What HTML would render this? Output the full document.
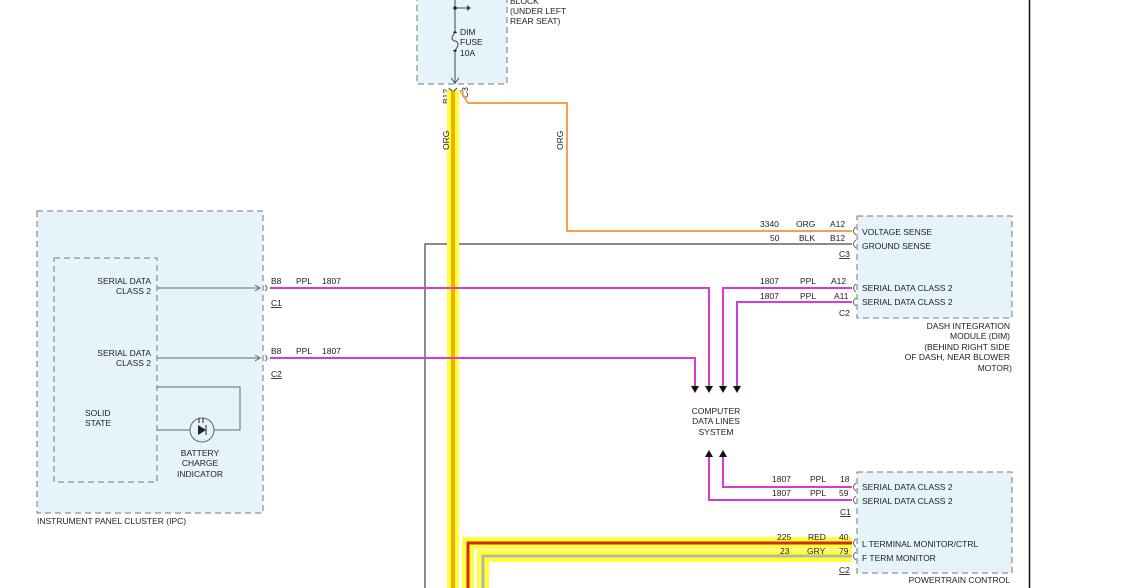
<!DOCTYPE html>
<html><head><meta charset="utf-8"><style>
html,body{margin:0;padding:0;background:#fff}
svg{display:block}
text{font-family:"Liberation Sans",sans-serif;font-size:8.5px;fill:#222}
</style></head><body>
<svg width="1123" height="588" viewBox="0 0 1123 588" xmlns="http://www.w3.org/2000/svg">
<!-- right border -->
<line x1="1029.5" y1="0" x2="1029.5" y2="588" stroke="#111" stroke-width="1.5"/>
<!-- fuse block -->
<rect x="417" y="-3" width="90" height="87" fill="#e6f3fb" stroke="#777" stroke-dasharray="6,4"/>
<line x1="455" y1="0" x2="455" y2="84" stroke="#444"/>
<line x1="455" y1="8" x2="470" y2="8" stroke="#444"/>
<path d="M467,5 L471,8 L467,11 Z" fill="#444"/>
<circle cx="455" cy="8" r="1.8" fill="#222"/>
<circle cx="455" cy="33" r="1.8" fill="#222"/>
<circle cx="455" cy="50" r="1.8" fill="#222"/>
<rect x="453" y="33" width="4" height="17" fill="#e6f3fb"/>
<path d="M455,33 C451,37 451,40 455,41 C459,42 459,46 455,50" fill="none" stroke="#444"/>
<path d="M451,78 L455,83 L459,78" fill="none" stroke="#444"/>
<text x="460" y="35">DIM</text><text x="460" y="45">FUSE</text><text x="460" y="56">10A</text>
<text x="510" y="4">BLOCK</text><text x="510" y="14">(UNDER LEFT</text><text x="510" y="24">REAR SEAT)</text>
<text transform="translate(449,104) rotate(-90)">B12</text>
<text transform="translate(468,98) rotate(-90)">C3</text>
<!-- orange thin wire -->
<path d="M460,90 L468,103 L567,103 L567,231 L852,231" fill="none" stroke="#f2a24a" stroke-width="2"/>
<text transform="translate(563,150) rotate(-90)">ORG</text>
<!-- gray wire -->
<path d="M425,588 L425,244 L852,244" fill="none" stroke="#666" stroke-width="1.5"/>
<!-- main yellow -->
<line x1="453" y1="90" x2="453" y2="588" stroke="#ffff40" stroke-width="12"/>
<line x1="453" y1="90" x2="453" y2="588" stroke="#f0b000" stroke-width="4"/>
<path d="M449,88 L452,91 M457,88 L454,91" stroke="#444"/>
<text transform="translate(449,150) rotate(-90)">ORG</text>
<!-- lower wires -->
<path d="M852,543 L468,543 L468,588" fill="none" stroke="#ffff40" stroke-width="12"/>
<path d="M852,556 L483,556 L483,588" fill="none" stroke="#ffff40" stroke-width="12"/>
<path d="M852,543 L468,543 L468,588" fill="none" stroke="#d42a00" stroke-width="3"/>
<path d="M852,556 L483,556 L483,588" fill="none" stroke="#b8b8a0" stroke-width="3"/>
<text x="777" y="540">225</text><text x="808" y="540">RED</text><text x="839" y="540">40</text>
<text x="780" y="554">23</text><text x="807" y="554">GRY</text><text x="839" y="554">79</text>
<text x="839" y="573" text-decoration="underline">C2</text>
<!-- IPC -->
<rect x="37" y="211" width="226" height="302" fill="#e6f3fb" stroke="#777" stroke-dasharray="6,4"/>
<rect x="54" y="258" width="103" height="224" fill="#e6f3fb" stroke="#777" stroke-dasharray="6,4"/>
<text x="37" y="524">INSTRUMENT PANEL CLUSTER (IPC)</text>
<text x="151" y="284" text-anchor="end">SERIAL DATA</text><text x="151" y="294" text-anchor="end">CLASS 2</text>
<text x="151" y="356" text-anchor="end">SERIAL DATA</text><text x="151" y="366" text-anchor="end">CLASS 2</text>
<text x="85" y="416">SOLID</text><text x="85" y="426">STATE</text>
<text x="200" y="456" text-anchor="middle">BATTERY</text><text x="200" y="466" text-anchor="middle">CHARGE</text><text x="200" y="477" text-anchor="middle">INDICATOR</text>
<line x1="157" y1="288" x2="260" y2="288" stroke="#666"/><path d="M255,285 L260,288 L255,291" fill="none" stroke="#666"/>
<line x1="157" y1="358" x2="260" y2="358" stroke="#666"/><path d="M255,355 L260,358 L255,361" fill="none" stroke="#666"/>
<path d="M157,387 L240,387 L240,430 L157,430" fill="none" stroke="#666"/>
<circle cx="202" cy="430" r="12" fill="#e6f3fb" stroke="#666"/>
<path d="M198,425 L206,430 L198,435 Z" fill="#222"/><line x1="206" y1="425" x2="206" y2="435" stroke="#222"/>
<path d="M199,423 L199,418 M203,423 L203,418" stroke="#222"/>
<path d="M265,285 Q269,288 265,291 M265,355 Q269,358 265,361" fill="none" stroke="#666"/>
<text x="271" y="284">B8</text><text x="296" y="284">PPL</text><text x="322" y="284">1807</text>
<text x="271" y="306" text-decoration="underline">C1</text>
<text x="271" y="354">B8</text><text x="296" y="354">PPL</text><text x="322" y="354">1807</text>
<text x="271" y="377" text-decoration="underline">C2</text>
<!-- magenta -->
<g fill="none" stroke="#d63ad6" stroke-width="2">
<path d="M270,288 L709,288 L709,386"/>
<path d="M270,358 L695,358 L695,386"/>
<path d="M852,288 L723,288 L723,386"/>
<path d="M852,302 L737,302 L737,386"/>
<path d="M852,487 L723,487 L723,456"/>
<path d="M852,500 L709,500 L709,456"/>
</g>
<g fill="#111">
<path d="M691,386 L699,386 L695,393 Z"/><path d="M705,386 L713,386 L709,393 Z"/>
<path d="M719,386 L727,386 L723,393 Z"/><path d="M733,386 L741,386 L737,393 Z"/>
<path d="M705,457 L713,457 L709,450 Z"/><path d="M719,457 L727,457 L723,450 Z"/>
</g>
<text x="716" y="414" text-anchor="middle">COMPUTER</text><text x="716" y="424" text-anchor="middle">DATA LINES</text><text x="716" y="435" text-anchor="middle">SYSTEM</text>
<!-- DIM -->
<rect x="857" y="216" width="155" height="102" fill="#e6f3fb" stroke="#777" stroke-dasharray="6,4"/>
<text x="862" y="235">VOLTAGE SENSE</text><text x="862" y="249">GROUND SENSE</text>
<text x="862" y="291">SERIAL DATA CLASS 2</text><text x="862" y="305">SERIAL DATA CLASS 2</text>
<text x="760" y="227">3340</text><text x="796" y="227">ORG</text><text x="830" y="227">A12</text>
<text x="770" y="241">50</text><text x="799" y="241">BLK</text><text x="830" y="241">B12</text>
<text x="839" y="257" text-decoration="underline">C3</text>
<text x="760" y="284">1807</text><text x="800" y="284">PPL</text><text x="831" y="284">A12</text>
<text x="760" y="299">1807</text><text x="800" y="299">PPL</text><text x="834" y="299">A11</text>
<text x="839" y="316">C2</text>
<text x="1010" y="329" text-anchor="end">DASH INTEGRATION</text><text x="1010" y="339" text-anchor="end">MODULE (DIM)</text>
<text x="1010" y="350" text-anchor="end">(BEHIND RIGHT SIDE</text><text x="1010" y="360" text-anchor="end">OF DASH, NEAR BLOWER</text><text x="1012" y="371" text-anchor="end">MOTOR)</text>
<g fill="none" stroke="#666">
<path d="M856,227 Q851,231 856,235 M856,240 Q851,244 856,248 M856,284 Q851,288 856,292 M856,298 Q851,302 856,306"/>
<path d="M856,483 Q851,487 856,491 M856,496 Q851,500 856,504 M856,539 Q851,543 856,547 M856,552 Q851,556 856,560"/>
</g>
<!-- PCM -->
<rect x="857" y="472" width="155" height="101" fill="#e6f3fb" stroke="#777" stroke-dasharray="6,4"/>
<text x="862" y="490">SERIAL DATA CLASS 2</text><text x="862" y="504">SERIAL DATA CLASS 2</text>
<text x="862" y="547">L TERMINAL MONITOR/CTRL</text><text x="862" y="561">F TERM MONITOR</text>
<text x="1010" y="583" text-anchor="end">POWERTRAIN CONTROL</text>
<text x="772" y="482">1807</text><text x="810" y="482">PPL</text><text x="840" y="482">18</text>
<text x="772" y="496">1807</text><text x="810" y="496">PPL</text><text x="839" y="496">59</text>
<text x="840" y="515" text-decoration="underline">C1</text>
</svg>
</body></html>
